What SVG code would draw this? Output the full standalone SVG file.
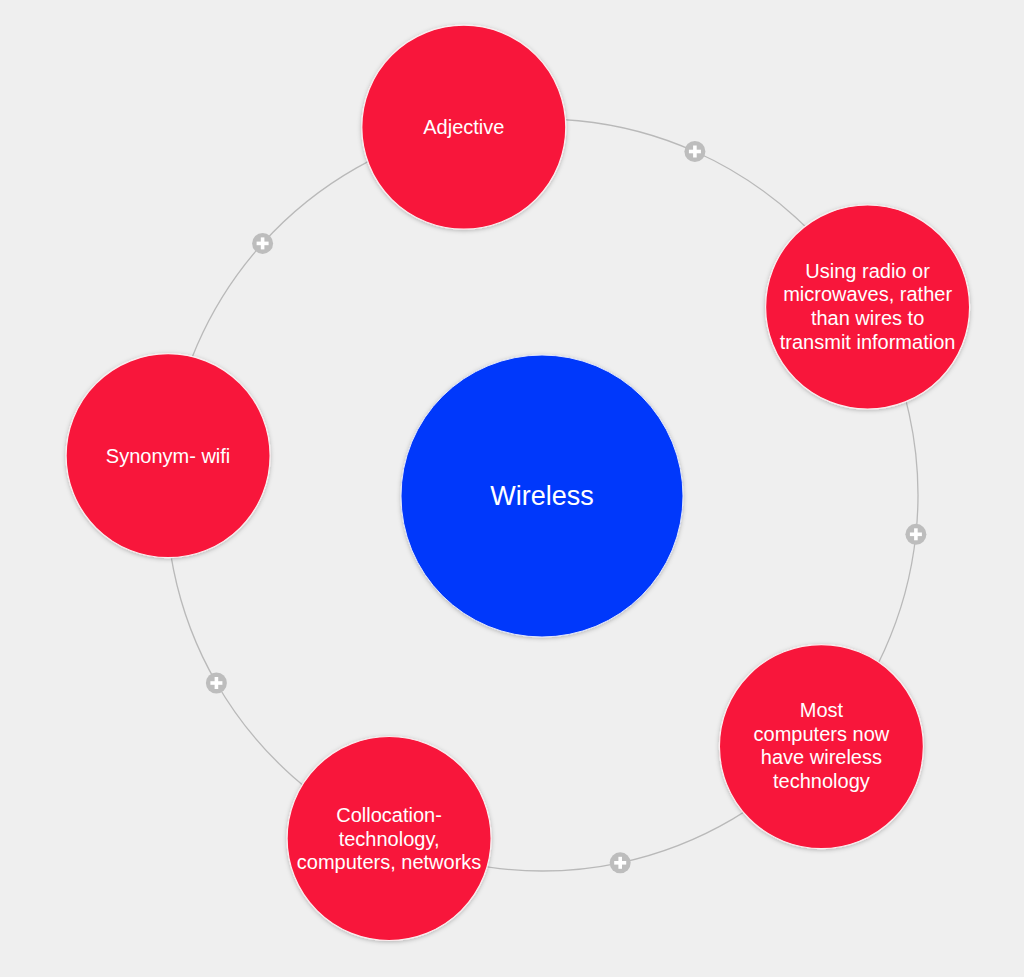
<svg xmlns="http://www.w3.org/2000/svg" width="1024" height="977" viewBox="0 0 1024 977">
  <defs>
    <filter id="shadow" x="-20%" y="-20%" width="140%" height="140%">
      <feDropShadow dx="0" dy="1" stdDeviation="2" flood-color="#000" flood-opacity="0.25"/>
    </filter>
    <g id="plus">
      <circle r="10.5" fill="#bdbdbd"/>
      <rect x="-6" y="-1.8" width="12" height="3.6" fill="#fff"/>
      <rect x="-1.8" y="-6" width="3.6" height="12" fill="#fff"/>
    </g>
  </defs>
  <style>
    .orbit { fill: none; stroke: #b9b9b9; stroke-width: 1.3; }
    .red { fill: #f8183a; stroke: #fbeef0; stroke-width: 1.2; filter: url(#shadow); }
    .blue { fill: #0638fb; stroke: #dfe6fb; stroke-width: 1; filter: url(#shadow); }
    .lbl { font-family: "Liberation Sans", Arial, sans-serif; font-size: 20px; fill: #ffffff; text-anchor: middle; }
    .big { font-size: 27px; }
  </style>
  <rect width="1024" height="977" fill="#efefef"/>

  <g id="connectors">
    <path class="orbit" d="M463.8,127.2 A376,376 0 0 1 867.6,307"/>
    <path class="orbit" d="M867.6,307 A376,376 0 0 1 821.4,746.6"/>
    <path class="orbit" d="M821.4,746.6 A376,376 0 0 1 389.1,838.5"/>
    <path class="orbit" d="M389.1,838.5 A376,376 0 0 1 168.1,455.7"/>
    <path class="orbit" d="M168.1,455.7 A376,376 0 0 1 463.8,127.2"/>
    <use href="#plus" x="694.9" y="151.5"/>
    <use href="#plus" x="915.9" y="534.3"/>
    <use href="#plus" x="620.2" y="862.8"/>
    <use href="#plus" x="216.4" y="683"/>
    <use href="#plus" x="262.6" y="243.4"/>
  </g>

  <g id="node-wireless">
    <circle class="blue" cx="542" cy="496" r="141"/>
    <text class="lbl big" x="542" y="505">Wireless</text>
  </g>

  <g id="node-adjective">
    <circle class="red" cx="463.8" cy="127.2" r="102"/>
    <text class="lbl" x="463.8" y="134">Adjective</text>
  </g>

  <g id="node-using-radio">
    <circle class="red" cx="867.6" cy="307" r="102"/>
    <text class="lbl" x="867.6" y="277.5">Using radio or</text>
    <text class="lbl" x="867.6" y="301.2">microwaves, rather</text>
    <text class="lbl" x="867.6" y="324.9">than wires to</text>
    <text class="lbl" x="867.6" y="348.6">transmit information</text>
  </g>

  <g id="node-most-computers">
    <circle class="red" cx="821.4" cy="746.6" r="102"/>
    <text class="lbl" x="821.4" y="717">Most</text>
    <text class="lbl" x="821.4" y="740.7">computers now</text>
    <text class="lbl" x="821.4" y="764.4">have wireless</text>
    <text class="lbl" x="821.4" y="788.1">technology</text>
  </g>

  <g id="node-collocation">
    <circle class="red" cx="389.1" cy="838.5" r="102"/>
    <text class="lbl" x="389.1" y="821.8">Collocation-</text>
    <text class="lbl" x="389.1" y="845.5">technology,</text>
    <text class="lbl" x="389.1" y="869.2">computers, networks</text>
  </g>

  <g id="node-synonym">
    <circle class="red" cx="168.1" cy="455.7" r="102"/>
    <text class="lbl" x="168.1" y="462.7">Synonym- wifi</text>
  </g>
</svg>
